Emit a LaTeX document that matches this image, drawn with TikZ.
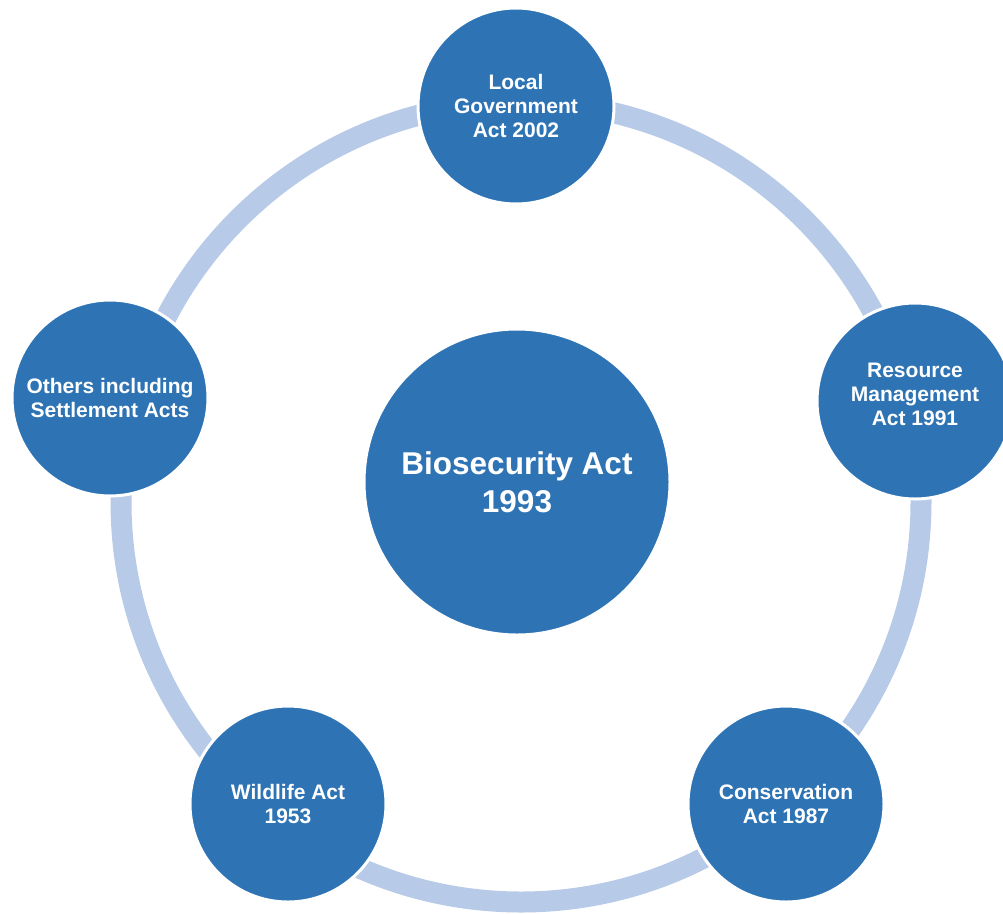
\documentclass[tikz,border=0pt]{standalone}
\usepackage{fontspec}
\setmainfont{Liberation Sans}
\definecolor{nodeblue}{HTML}{2E74B5}
\definecolor{ringblue}{HTML}{B7CAE8}
\tikzset{
  ring/.style={draw=ringblue, line width=21pt},
  acttext/.style={text=white, align=center, inner sep=0pt, font=\bfseries\fontsize{21}{24}\selectfont},
  actnode/.style={acttext, circle, fill=nodeblue, draw=white, line width=3pt, minimum size=196pt},
  mainnode/.style={actnode, minimum size=306pt, font=\bfseries\fontsize{31.5}{38}\selectfont}
}
\begin{document}
\begin{tikzpicture}[x=1pt,y=-1pt]
\useasboundingbox (0,0) rectangle (1003,913);
\fill[white] (0,0) rectangle (1003,913);
\coordinate (ringc) at (521,502);
\draw[ring] (ringc) circle (400pt);
\node[mainnode] (bio) at (517,482) {Biosecurity Act\\1993};
\node[actnode] (lga) at (516,106) {Local\\Government\\Act 2002};
\node[actnode] (rma) at (915,401) {};
\node[acttext] (rmatext) at ([yshift=7pt]rma.center) {Resource\\Management\\Act 1991};
\node[actnode] (cons) at (786,804) {Conservation\\Act 1987};
\node[actnode] (wild) at (288,804) {Wildlife Act\\1953};
\node[actnode] (oth) at (110,398) {Others including\\Settlement Acts};
\end{tikzpicture}
\end{document}
